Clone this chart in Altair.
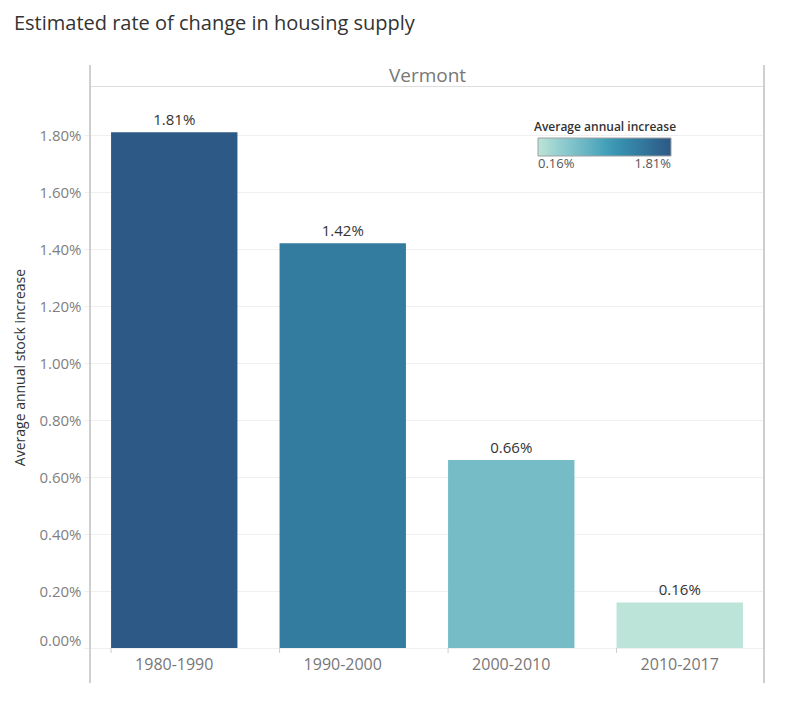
import altair as alt
import pandas as pd

state = "Vermont"
periods = ["1980-1990", "1990-2000", "2000-2010", "2010-2017"]
rates = [0.0181, 0.0142, 0.0066, 0.0016]
y_ticks = [0.0, 0.002, 0.004, 0.006, 0.008, 0.010, 0.012, 0.014, 0.016, 0.018]
y_max = 0.01972
palette = ["#bce4d8", "#9dd3d1", "#81c3cb", "#65b3c2", "#45a2b9",
           "#368fae", "#347da0", "#306a93", "#2c5985"]

df = pd.DataFrame({"state": state, "period": periods, "rate": rates})
ticks_df = pd.DataFrame({"period": periods})

lo, hi = min(rates), max(rates)
stops = [lo + (hi - lo) * i / (len(palette) - 1) for i in range(len(palette))]

W, H = 674, 562
FONT = "Open Sans"
GRID = "#efefef"
FRAME = "#cccccc"
TITLE = "Estimated rate of change in housing supply"

legend = alt.Legend(
    title="Average annual increase", orient="none", legendX=444, legendY=36,
    direction="horizontal", gradientLength=133, gradientThickness=18,
    values=[lo, hi], format=".2%", titleAnchor="middle", titleFontSize=12,
    titleFontWeight=600, titleColor="#333333", titleFont=FONT, titlePadding=4,
    labelFontSize=13, labelColor="#555555", labelFont=FONT,
    gradientStrokeColor="#a0a0a0", gradientStrokeWidth=1, padding=0,
)

x_scale = alt.Scale(paddingInner=0.25, paddingOuter=0.125)
y_scale = alt.Scale(domain=[0, y_max], nice=False)
y_axis = alt.Axis(format=".2%", values=y_ticks,
                  title="Average annual stock increase",
                  titleFontSize=14, titleColor="#333333",
                  titleFontWeight="normal", titleFont=FONT,
                  titlePadding=11, labelColor="#808080",
                  labelFontSize=15, labelFont=FONT, labelFlush=True,
                  tickColor=GRID, tickSize=6, labelPadding=3,
                  domain=False, gridColor=GRID, orient="left")

bars = alt.Chart(df).mark_bar().encode(
    x=alt.X("period:N", sort=periods, scale=x_scale,
            axis=alt.Axis(title=None, labelAngle=0, labelFontSize=16,
                          labelColor="#777777", ticks=False, domain=False,
                          labelPadding=8, labelFont=FONT, grid=False,
                          orient="bottom")),
    y=alt.Y("rate:Q", scale=y_scale, axis=y_axis),
    color=alt.Color("rate:Q",
                    scale=alt.Scale(domain=stops, range=palette),
                    legend=legend),
)

labels = alt.Chart(df).mark_text(
    baseline="bottom", dy=-4, fontSize=15, color="#333333", font=FONT
).encode(
    x=alt.X("period:N", sort=periods, scale=x_scale,
            axis=alt.Axis(orient="top", title=state, labels=False,
                          ticks=False, domain=False, titleFontSize=19,
                          titleColor="#777777", titleFontWeight="normal",
                          titleFont=FONT, titlePadding=1, grid=False)),
    y=alt.Y("rate:Q", scale=y_scale, axis=y_axis),
    text=alt.Text("rate:Q", format=".2%"),
)

band_ticks = alt.Chart(ticks_df).mark_rule(color=FRAME).encode(
    x=alt.X("period:N", sort=periods, bandPosition=0, axis=None),
    y=alt.value(H),
    y2=alt.value(H + 5),
)

left_line = alt.Chart(ticks_df).mark_rule(color=FRAME).encode(
    x=alt.value(0), y=alt.value(-21), y2=alt.value(H + 35))
right_line = alt.Chart(ticks_df).mark_rule(color=FRAME).encode(
    x=alt.value(W), y=alt.value(-21), y2=alt.value(H + 35))

chart = alt.layer(bars, labels, band_ticks, left_line, right_line).resolve_axis(
    x="independent", y="shared"
).properties(
    width=W, height=H,
    title=alt.Title(TITLE, anchor="start",
                    frame="bounds", fontSize=20, font=FONT, fontWeight="normal",
                    color="#333333", offset=34, dy=3),
).configure_view(stroke=FRAME).configure(font=FONT)

chart.save("out.html", embed_options={"renderer": "svg", "actions": False})
